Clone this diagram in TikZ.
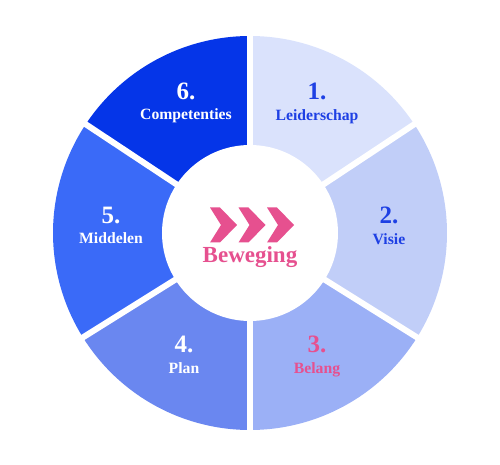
\documentclass[tikz,border=0pt]{standalone}
\usepackage{fontspec}
\setmainfont{Liberation Serif}
\usetikzlibrary{positioning}

\definecolor{SegA}{HTML}{DAE2FC}
\definecolor{SegB}{HTML}{C1CEF8}
\definecolor{SegC}{HTML}{9BB0F6}
\definecolor{SegD}{HTML}{6A87F0}
\definecolor{SegE}{HTML}{3A6AF8}
\definecolor{SegF}{HTML}{0535E8}
\definecolor{TBlue}{HTML}{1E40E4}
\definecolor{TPink}{HTML}{E6508F}

\begin{document}
\begin{tikzpicture}[
  x=1pt, y=1pt,
  font=\bfseries,
  numtext/.style={font=\fontsize{25}{25}\selectfont\bfseries, text=#1, anchor=base, inner sep=0pt},
  segtext/.style={font=\fontsize{15.7}{16}\selectfont\bfseries, text=#1, anchor=base, inner sep=0pt},
  gap/.style={draw=white, line width=6pt},
  chevron/.style={fill=TPink}
]
\useasboundingbox (-250,-232) rectangle (250,233);

% ring segments (start/stop angles)
\foreach \start/\stop/\col in {90/33.5/SegA, 33.5/-32/SegB, -32/-90/SegC,
    -90/-148/SegD, -148/-213.5/SegE, 146.5/90/SegF}{
  \fill[\col] (\start:197) arc[start angle=\start, end angle=\stop, radius=197]
    -- (\stop:80) arc[start angle=\stop, end angle=\start, radius=80] -- cycle;
}
\foreach \a in {90,33.5,-32,-90,-148,146.5}
  \draw[gap] (0,0) -- (\a:200);
\fill[white] (0,0) circle[radius=88];

% labels
\foreach \n/\lbl/\px/\py/\col in {1/Leiderschap/67/124.5/TBlue, 2/Visie/139/0.5/TBlue,
    3/Belang/67/-128/TPink, 4/Plan/-66/-128/white, 5/Middelen/-139/1/white,
    6/Competenties/-64/125/white}{
  \node[numtext=\col] (num\n) at (\px,\py+8.5) {\n.};
  \node[segtext=\col] (seg\n) at (\px,\py-12) {\lbl};
}

% centre
\foreach \k/\x in {1/-40,2/-11.5,3/17}
  \fill[chevron] (\x,25.5) -- (\x+10,25.5) -- (\x+27,8) -- (\x+10,-9.5) -- (\x,-9.5)
    -- (\x+11,8) -- cycle;
\node[font=\fontsize{23}{23}\selectfont\bfseries, text=TPink, anchor=base, inner sep=0pt]
  (beweging) at (0,-30) {Beweging};
\end{tikzpicture}
\end{document}
